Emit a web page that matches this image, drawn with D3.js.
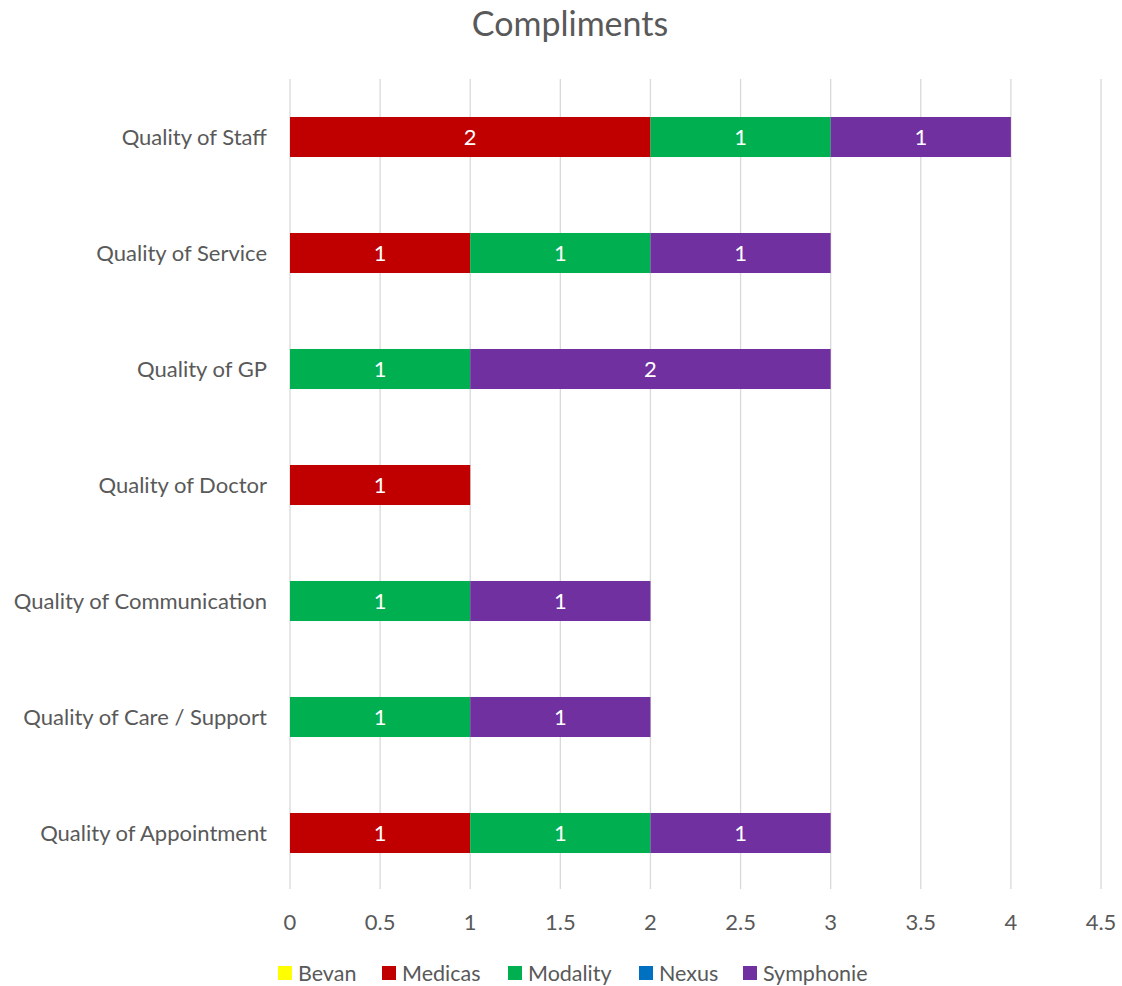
<!DOCTYPE html>
<html><head><meta charset="utf-8">
<script src="https://cdn.jsdelivr.net/npm/d3@7"></script>
<style>body{margin:0;background:#fff;} text{font-family:Lato,"Open Sans",sans-serif;}</style>
</head><body><svg id="c" width="1122" height="986"></svg>
<script>
const categories = ["Quality of Staff","Quality of Service","Quality of GP","Quality of Doctor","Quality of Communication","Quality of Care / Support","Quality of Appointment"];
const seriesNames = ["Bevan","Medicas","Modality","Nexus","Symphonie"];
const seriesColors = ["#FFFF00","#C00000","#00B050","#0070C0","#7030A0"];
const bevan = [0,0,0,0,0,0,0];
const medicas = [2,1,0,1,0,0,1];
const modality = [1,1,1,0,1,1,1];
const nexus = [0,0,0,0,0,0,0];
const symphonie = [1,1,2,0,1,1,1];
const xTicks = [0,0.5,1,1.5,2,2.5,3,3.5,4,4.5];

(function(){
const seriesValues = [bevan, medicas, modality, nexus, symphonie];
const rows = categories.map((c,i)=>{const r={cat:c}; seriesNames.forEach((s,j)=>r[s]=seriesValues[j][i]); return r;});
const stacked = d3.stack().keys(seriesNames)(rows);

const svg = d3.select("#c");
const pL=290, pR=1101, pT=79, pB=891;
const x = d3.scaleLinear().domain([0,4.5]).range([pL,pR]);
const y = d3.scaleBand().domain(categories).range([pT,pB]).paddingInner(0.655).paddingOuter(0.3275);
const txt="#595959";
const fs=22;

svg.append("text").attr("x",570).attr("y",36).attr("text-anchor","middle").attr("fill",txt).attr("font-size",34).text("Compliments");

svg.append("g").selectAll("line").data(xTicks).join("line")
 .attr("x1",d=>x(d)).attr("x2",d=>x(d)).attr("y1",pT).attr("y2",889)
 .attr("stroke","#d9d9d9").attr("stroke-width",1.3);

const g = svg.append("g").selectAll("g").data(stacked).join("g").attr("fill",(d,i)=>seriesColors[i]);
g.selectAll("rect").data(d=>d).join("rect")
 .attr("x",d=>x(d[0])).attr("width",d=>x(d[1])-x(d[0]))
 .attr("y",d=>y(d.data.cat)).attr("height",y.bandwidth());

stacked.forEach(s=>{
 svg.append("g").selectAll("text").data(s.filter(d=>d[1]-d[0]>0)).join("text")
  .attr("x",d=>(x(d[0])+x(d[1]))/2).attr("y",d=>y(d.data.cat)+y.bandwidth()/2)
  .attr("dy","0.35em").attr("text-anchor","middle").attr("fill","#fff").attr("font-size",fs)
  .text(d=>d[1]-d[0]);
});

svg.append("g").selectAll("text").data(categories).join("text")
 .attr("x",267).attr("y",d=>y(d)+y.bandwidth()/2).attr("dy","0.35em")
 .attr("text-anchor","end").attr("fill",txt).attr("font-size",fs).text(d=>d);

svg.append("g").selectAll("text").data(xTicks).join("text")
 .attr("x",d=>x(d)).attr("y",922).attr("dy","0.35em").attr("text-anchor","middle")
 .attr("fill",txt).attr("font-size",fs).text(d=>d);

const legX=[278,382,508,639,743];
const leg = svg.append("g").selectAll("g").data(seriesNames).join("g")
 .attr("transform",(d,i)=>`translate(${legX[i]},973)`);
leg.append("rect").attr("x",0).attr("y",-7).attr("width",14).attr("height",14).attr("fill",(d,i)=>seriesColors[i]);
leg.append("text").attr("x",20).attr("y",0).attr("dy","0.35em").attr("fill",txt).attr("font-size",21.5).text(d=>d);
})();
</script></body></html>
